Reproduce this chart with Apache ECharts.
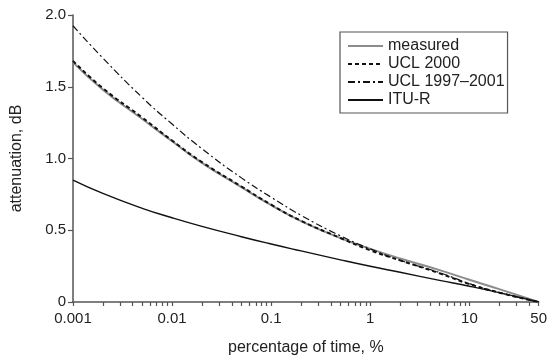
<!DOCTYPE html>
<html>
<head>
<meta charset="utf-8">
<script src="https://cdn.jsdelivr.net/npm/echarts@6/dist/echarts.min.js"></script>
<style>
html,body{margin:0;padding:0;background:#fff;}
#chart{width:550px;height:361px;}
</style>
</head>
<body>
<div id="chart"></div>
<script>
var percentTime = [0.001, 0.002, 0.005, 0.01, 0.02, 0.05, 0.1, 0.2, 0.5, 1, 2, 5, 10, 20, 50];
var measured  = [1.67, 1.48, 1.275, 1.12, 0.97, 0.80, 0.675, 0.564, 0.445, 0.37, 0.303, 0.222, 0.155, 0.09, 0];
var ucl2000   = [1.68, 1.49, 1.285, 1.125, 0.975, 0.805, 0.678, 0.566, 0.446, 0.36, 0.29, 0.20, 0.125, 0.065, 0];
var ucl9701   = [1.925, 1.70, 1.425, 1.24, 1.068, 0.865, 0.73, 0.604, 0.461, 0.37, 0.29, 0.205, 0.128, 0.066, 0];
var ituR      = [0.85, 0.757, 0.653, 0.587, 0.527, 0.455, 0.404, 0.356, 0.294, 0.249, 0.207, 0.151, 0.11, 0.065, 0];
var xLabelValues = [0.001, 0.01, 0.1, 1, 10, 50];
var xTickValues = [0.001,0.002,0.003,0.004,0.005,0.006,0.007,0.008,0.009,
                   0.01,0.02,0.03,0.04,0.05,0.06,0.07,0.08,0.09,
                   0.1,0.2,0.3,0.4,0.5,0.6,0.7,0.8,0.9,
                   1,2,3,4,5,6,7,8,9,10,20,30,40,50];
var seriesNames = ['measured', 'UCL 2000', 'UCL 1997\u20132001', 'ITU-R'];

function pairs(arr){ return percentTime.map(function(x,i){ return [x, arr[i]]; }); }

var chart = echarts.init(document.getElementById('chart'), null, {renderer:'canvas'});
var font = 'Liberation Sans, Arial, Helvetica, sans-serif';
var axisCol = '#555';
var txtCol = '#222';
chart.setOption({
  animation: false,
  backgroundColor: '#fff',
  textStyle: {fontFamily: font},
  grid: {left: 73, right: 10, top: 15, bottom: 57, containLabel: false},
  legend: {
    orient: 'vertical', left: 340, top: 32,
    padding: [6, 3, 5, 7],
    itemWidth: 35, itemHeight: 14, itemGap: 2,
    borderColor: '#555', borderWidth: 1.2, borderRadius: 0,
    backgroundColor: '#fff',
    itemStyle: {opacity: 0},
    textStyle: {fontFamily: font, fontSize: 16, lineHeight: 16, color: txtCol},
    data: seriesNames
  },
  xAxis: {
    type: 'log', logBase: 10, min: 0.001, max: 50,
    axisLine: {show: true, onZero: false, lineStyle: {color: axisCol, width: 1.5}},
    axisTick: {show: true, length: 4, lineStyle: {color: axisCol, width: 1.2}, customValues: xTickValues},
    axisLabel: {show: true, customValues: xLabelValues, color: txtCol, fontSize: 15, fontFamily: font, margin: 9,
      formatter: function(v){ return String(+Number(v).toPrecision(6)); }},
    splitLine: {show: false},
    name: 'percentage of time, %', nameLocation: 'middle', nameGap: 38,
    nameTextStyle: {color: txtCol, fontSize: 16, fontFamily: font}
  },
  yAxis: {
    type: 'value', min: 0, max: 2, interval: 0.5,
    axisLine: {show: true, lineStyle: {color: axisCol, width: 1.5}},
    axisTick: {show: true, length: 5, lineStyle: {color: axisCol, width: 1.2}},
    axisLabel: {color: txtCol, fontSize: 15, fontFamily: font, margin: 7,
      formatter: function(v){ return v === 0 ? '0' : v.toFixed(1); }},
    splitLine: {show: false},
    name: 'attenuation, dB', nameLocation: 'middle', nameGap: 48, nameRotate: 90,
    nameTextStyle: {color: txtCol, fontSize: 16, fontFamily: font}
  },
  series: [
    {name: seriesNames[0], type: 'line', data: pairs(measured), showSymbol: false, symbol: 'none',
     smooth: 0.5, lineStyle: {color: '#8c8c8c', width: 2, type: 'solid'}, itemStyle: {color: '#8c8c8c'}, z: 2},
    {name: seriesNames[1], type: 'line', data: pairs(ucl2000), showSymbol: false, symbol: 'none',
     smooth: 0.5, lineStyle: {color: '#111', width: 2, type: [4, 3]}, itemStyle: {color: '#111'}, z: 3},
    {name: seriesNames[2], type: 'line', data: pairs(ucl9701), showSymbol: false, symbol: 'none',
     smooth: 0.5, lineStyle: {color: '#111', width: 1.2, type: [7, 3, 2, 3]}, itemStyle: {color: '#111'}, z: 3},
    {name: seriesNames[3], type: 'line', data: pairs(ituR), showSymbol: false, symbol: 'none',
     smooth: 0.5, lineStyle: {color: '#111', width: 1.4, type: 'solid'}, itemStyle: {color: '#111'}, z: 3}
  ]
});
</script>
</body>
</html>
